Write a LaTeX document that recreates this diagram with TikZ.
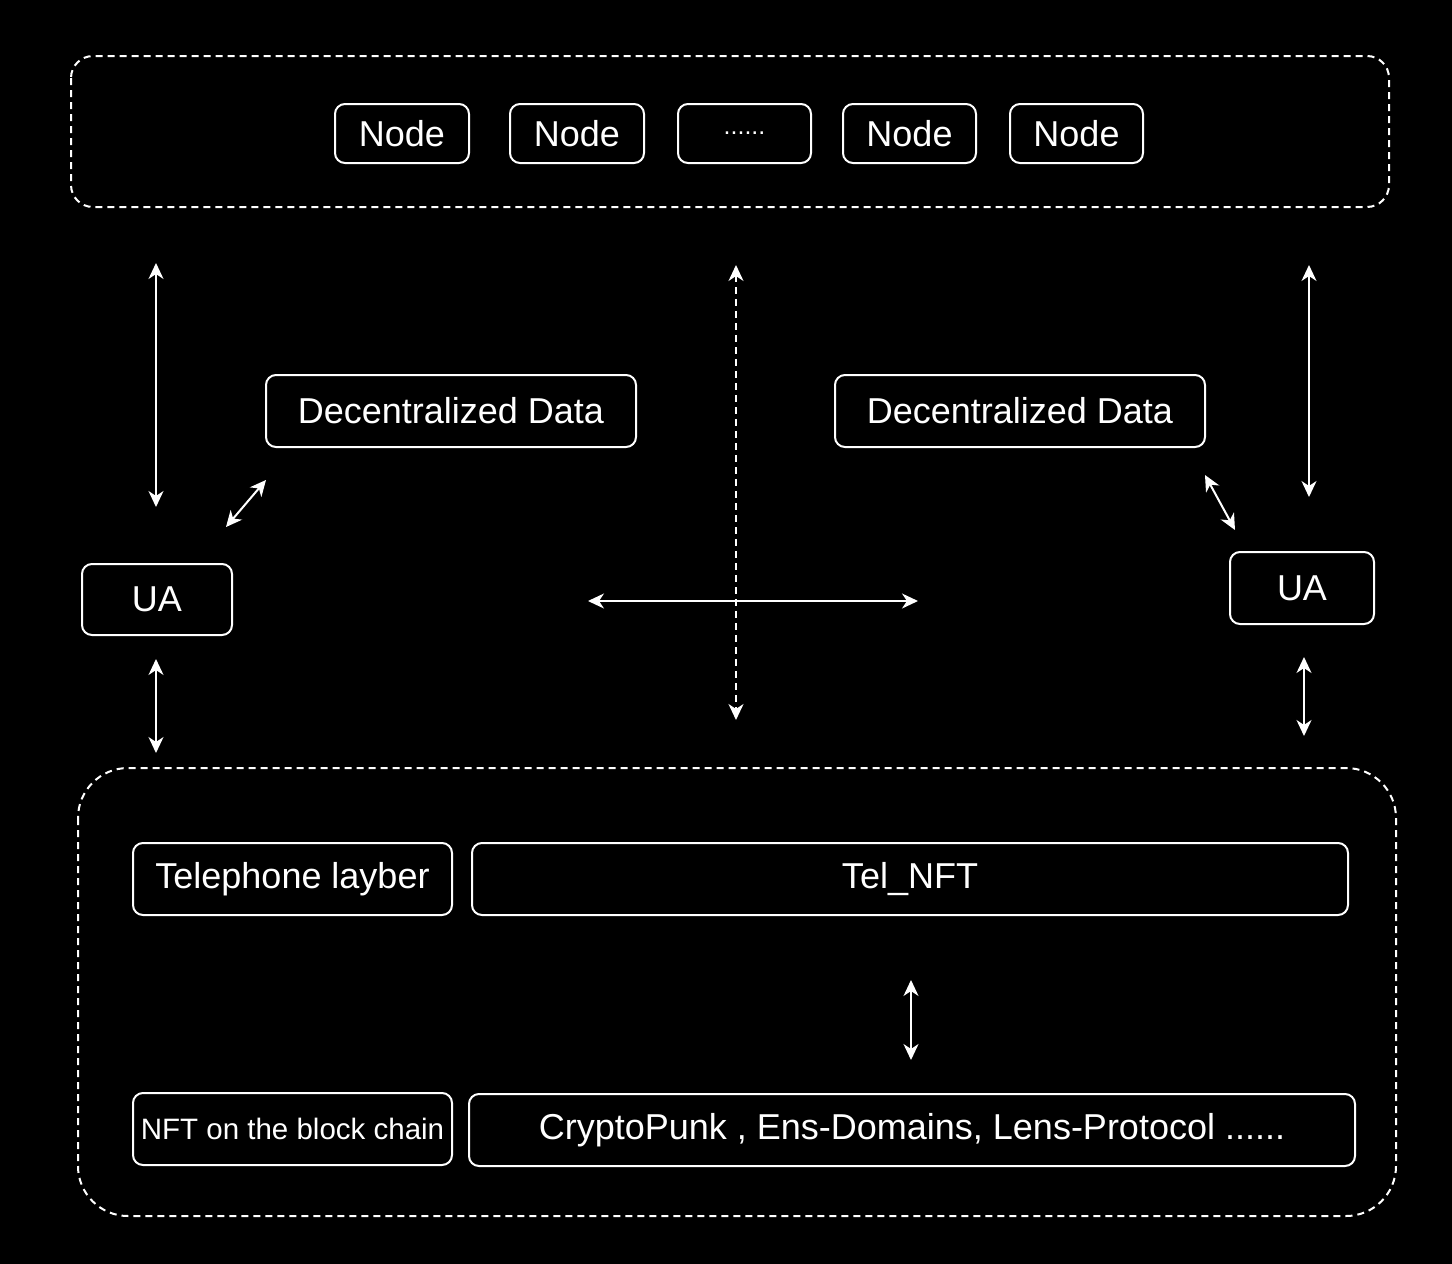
\documentclass[tikz,border=0pt]{standalone}
\usepackage{fontspec}
\setmainfont{Liberation Sans}
\usetikzlibrary{arrows.meta}
\begin{document}
\begin{tikzpicture}[x=1pt,y=-1pt,
  box/.style={draw=white, line width=2pt, rounded corners=10pt, fill=black, text=white, inner sep=0pt,
    font=\fontsize{36}{40}\selectfont},
  group/.style={draw=white, line width=2pt, dash pattern=on 7pt off 5pt, rounded corners=#1},
  biarrow/.style={draw=white, line width=2pt, {Stealth[length=16pt,width=15pt,inset=5pt]}-{Stealth[length=16pt,width=15pt,inset=5pt]}},
  dbiarrow/.style={biarrow, dash pattern=on 7pt off 5pt}
]
\fill[black] (0,0) rectangle (1452,1264);
\useasboundingbox (0,0) rectangle (1452,1264);

% groups
\draw[group=22pt] (71,56) rectangle (1389,207);
\draw[group=50pt] (78,768) rectangle (1396,1216);

% nodes top row
\node[box, minimum width=134pt, minimum height=59pt] (n1) at (402,133.5) {Node};
\node[box, minimum width=134pt, minimum height=59pt] (n2) at (577,133.5) {Node};
\node[box, minimum width=133pt, minimum height=59pt, font=\fontsize{25}{28}\selectfont] (n3) at (744.5,133.5) {......};
\node[box, minimum width=133pt, minimum height=59pt] (n4) at (909.5,133.5) {Node};
\node[box, minimum width=133pt, minimum height=59pt] (n5) at (1076.5,133.5) {Node};

% decentralized data
\node[box, minimum width=370pt, minimum height=72pt] (dd1) at (451,411) {Decentralized Data};
\node[box, minimum width=370pt, minimum height=72pt] (dd2) at (1020,411) {Decentralized Data};

% UA
\node[box, minimum width=150pt, minimum height=71pt] (ua1) at (157,599.5) {UA};
\node[box, minimum width=144pt, minimum height=72pt] (ua2) at (1302,588) {UA};

% bottom
\node[box, minimum width=319pt, minimum height=72pt] (tel) at (292.5,879) {Telephone layber};
\node[box, minimum width=876pt, minimum height=72pt] (telnft) at (910,879) {Tel\_NFT};
\node[box, minimum width=319pt, minimum height=72pt, font=\fontsize{29.5}{34}\selectfont] (nftchain) at (292.5,1129) {NFT on the block chain};
\node[box, minimum width=886pt, minimum height=72pt] (punk) at (912,1130) {CryptoPunk , Ens-Domains, Lens-Protocol ......};

% arrow endpoints
\coordinate (a1s) at (156,263);  \coordinate (a1e) at (156,507);
\coordinate (a2s) at (226,527);  \coordinate (a2e) at (266,480);
\coordinate (a3s) at (736,265);  \coordinate (a3e) at (736,720);
\coordinate (a4s) at (588,601);  \coordinate (a4e) at (918,601);
\coordinate (a5s) at (1309,265); \coordinate (a5e) at (1309,497);
\coordinate (a6s) at (1205,475); \coordinate (a6e) at (1235,530);
\coordinate (a7s) at (156,659);  \coordinate (a7e) at (156,753);
\coordinate (a8s) at (1304,657); \coordinate (a8e) at (1304,736);
\coordinate (a9s) at (911,980);  \coordinate (a9e) at (911,1060);

\draw[biarrow] (a1s) -- (a1e);
\draw[biarrow] (a2s) -- (a2e);
\draw[dbiarrow] (a3s) -- (a3e);
\draw[biarrow] (a4s) -- (a4e);
\draw[biarrow] (a5s) -- (a5e);
\draw[biarrow] (a6s) -- (a6e);
\draw[biarrow] (a7s) -- (a7e);
\draw[biarrow] (a8s) -- (a8e);
\draw[biarrow] (a9s) -- (a9e);
\end{tikzpicture}
\end{document}
